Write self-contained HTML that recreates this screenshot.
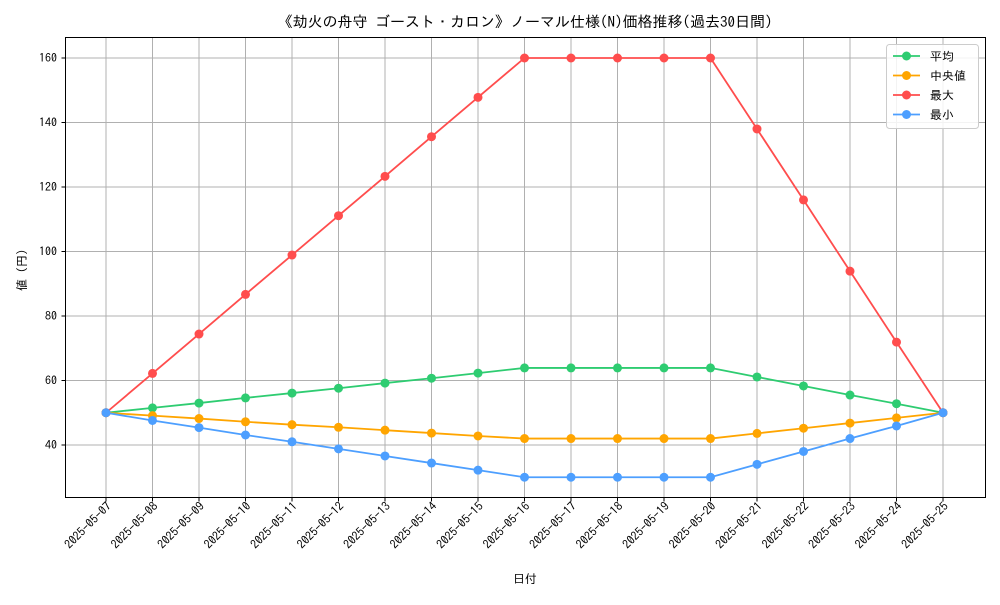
<!DOCTYPE html>
<html><head><meta charset="utf-8"><style>
body{margin:0;background:#fff;}
svg text{font-family:"IPAGothic","Noto Sans CJK JP",sans-serif;fill:#000;}
</style></head><body>
<svg id="chart" width="1000" height="600" xmlns="http://www.w3.org/2000/svg">
<text x="525" y="27" text-anchor="middle" font-size="15">《劫火の舟守 ゴースト・カロン》ノーマル仕様(N)価格推移(過去30日間)</text>
<g id="grid"></g>
<rect x="65.5" y="37.5" width="920" height="460" fill="none" stroke="#000" stroke-width="1"/>
<g id="axes"></g>
<g id="series"></g>
<text x="525" y="583" text-anchor="middle" font-size="12">日付</text>
<text transform="translate(26,270) rotate(-90)" text-anchor="middle" font-size="12">値 (円)</text>
<g id="legend"></g>
</svg>
<script>
const categories=["2025-05-07","2025-05-08","2025-05-09","2025-05-10","2025-05-11","2025-05-12","2025-05-13","2025-05-14","2025-05-15","2025-05-16","2025-05-17","2025-05-18","2025-05-19","2025-05-20","2025-05-21","2025-05-22","2025-05-23","2025-05-24","2025-05-25"];
const avgValues=[50,51.5,53,54.6,56.1,57.6,59.2,60.7,62.3,63.9,63.9,63.9,63.9,63.9,61.1,58.3,55.5,52.8,50];
const medianValues=[50,49.1,48.2,47.2,46.3,45.5,44.6,43.7,42.8,42,42,42,42,42,43.6,45.2,46.8,48.4,50];
const maxValues=[50,62.2,74.4,86.7,98.9,111.1,123.3,135.6,147.8,160,160,160,160,160,138,116,93.9,71.9,50];
const minValues=[50,47.6,45.4,43.1,41,38.8,36.6,34.4,32.2,30,30,30,30,30,34,38,42,45.9,50];
const yTicks=[40,60,80,100,120,140,160];
const seriesNames=["平均","中央値","最大","最小"];
const seriesColors=["#2ecc71","#ffa500","#ff4d4d","#4d9fff"];
const NS="http://www.w3.org/2000/svg";
const xs=i=>106+i*(943-106)/(categories.length-1);
const ys=v=>445-(v-40)*(445-58)/120;
function mk(t,a,p){const e=document.createElementNS(NS,t);for(const k in a)e.setAttribute(k,a[k]);p.appendChild(e);return e;}
const grid=document.getElementById('grid'),axes=document.getElementById('axes'),ser=document.getElementById('series'),leg=document.getElementById('legend');
categories.forEach((c,i)=>{const x=xs(i);
 const g=mk('line',{x1:x,x2:x,y1:37.5,y2:497.5,stroke:'#b0b0b0','stroke-width':1},grid);
 
 
 const tk=mk('line',{x1:x,x2:x,y1:497.5,y2:501.5,stroke:'#000'},axes);
 
 
 const t=mk('text',{transform:`translate(${x+6},${507}) rotate(-45)`,'text-anchor':'end','font-size':'12'},axes);
 t.textContent=c;
 
 
});
yTicks.forEach(v=>{const y=ys(v);
 const g=mk('line',{x1:65.5,x2:985.5,y1:y,y2:y,stroke:'#b0b0b0','stroke-width':1},grid);
 
 
 const tk=mk('line',{x1:61.5,x2:65.5,y1:y,y2:y,stroke:'#000'},axes);
 
 
 const t=mk('text',{x:57,y:y+4,'text-anchor':'end','font-size':'12'},axes);
 t.textContent=v;
 
 
});
[avgValues,medianValues,maxValues,minValues].forEach((vals,s)=>{
 const g=mk('g',{},ser);
 
 
 const pl=mk('polyline',{points:vals.map((v,i)=>xs(i)+','+ys(v)).join(' '),fill:'none',stroke:seriesColors[s],'stroke-width':1.8},g);
 
 
 vals.forEach((v,i)=>{const c=mk('circle',{cx:xs(i),cy:ys(v),r:4.5,fill:seriesColors[s]},g);
  
  });
});
const lb=mk('rect',{x:886.5,y:44.5,width:92,height:84,rx:3,fill:'#fff','fill-opacity':0.85,stroke:'#ccc'},leg);


seriesNames.forEach((n,s)=>{const y=56+s*19.5;
 const g=mk('g',{},leg);
 
 
 mk('line',{x1:893,x2:920,y1:y,y2:y,stroke:seriesColors[s],'stroke-width':1.8},g);
 mk('circle',{cx:906.5,cy:y,r:4.5,fill:seriesColors[s]},g);
 const t=mk('text',{x:930,y:y+4.5,'font-size':'12'},g);t.textContent=n;
});
</script>
</body></html>
